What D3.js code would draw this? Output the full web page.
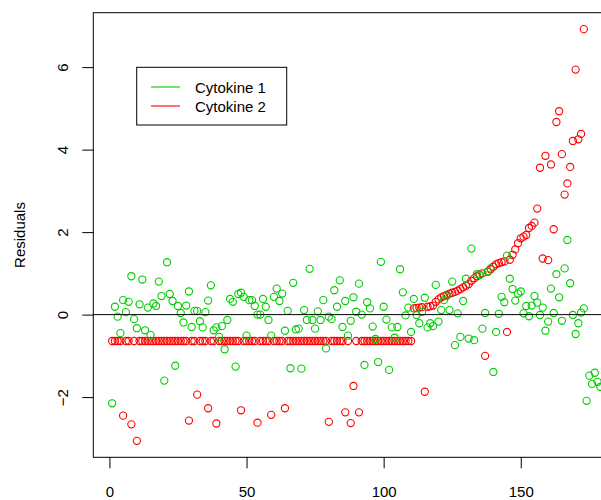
<!DOCTYPE html>
<html>
<head>
<meta charset="utf-8">
<script src="https://cdn.jsdelivr.net/npm/d3@7"></script>
<style>
  body { margin: 0; background: #fff; }
  svg { font-family: "Liberation Sans", Arial, Helvetica, sans-serif; }
</style>
</head>
<body>
<svg id="svg" width="601" height="500"></svg>
<script>
// residuals, one value per observation index (1..n)
const cytokine1 = [
  -2.15, 0.19, -0.05, -0.45, 0.35, 0.06, 0.31, 0.93, -0.11, -0.33,
  0.25, 0.85, -0.38, 0.17, -0.49, 0.27, 0.21, 0.80, 0.45, -1.60,
  1.27, 0.50, 0.33, -1.24, 0.21, 0.04, -0.19, 0.22, 0.56, -0.30,
  0.09, 0.09, -0.16, -0.31, 0.06, 0.34, 0.71, -0.38, -0.31, -0.54,
  -0.28, -0.84, -0.13, 0.38, 0.31, -1.26, 0.50, 0.53, 0.43, -0.51,
  0.35, 0.35, 0.21, 0.00, 0.00, 0.38, 0.19, -0.13, -0.51, 0.43,
  0.63, 0.33, 0.51, -0.39, 0.09, -1.30, 0.77, -0.36, -0.34, -1.31,
  0.11, -0.13, 1.11, -0.13, -0.34, 0.08, -0.13, 0.35, -0.82, -0.05,
  -0.11, 0.59, 0.19, 0.83, -0.30, 0.33, -0.51, -0.15, 0.42, 0.07,
  0.75, 0.00, -1.22, 0.30, 0.15, -0.29, -0.59, -1.15, 1.28, 0.19,
  -0.12, -1.34, -0.31, -0.56, -0.30, 1.10, 0.54, -0.02, 0.17, -0.42,
  0.38, -0.01, -0.21, 0.07, 0.41, -0.31, -0.21, -0.28, 0.72, -0.17,
  0.11, 0.35, 0.45, 0.11, 0.80, -0.74, 0.03, -0.54, 0.33, 0.87,
  -0.58, 1.60, -0.62, 0.98, 0.96, -0.34, 0.04, 1.05, 1.12, -1.39,
  -0.42, 0.02, 0.43, 0.30, 1.43, 0.87, 0.62, 0.34, 0.51, 0.56,
  0.03, 0.21, -0.04, 0.22, 0.45, 0.29, -0.01, 0.17, -0.39, -0.17,
  0.63, 0.04, 0.98, 0.42, -0.15, 1.12, 1.81, 0.76, -0.01, -0.47,
  -0.21, 0.05, 0.15, -2.09, -1.48, -1.68, -1.41, -1.63, -1.75
];

const cytokine2 = [
  -0.64, -0.64, -0.64, -0.64, -2.45, -0.64, -0.64, -2.66, -0.64, -3.06,
  -0.64, -0.64, -0.64, -0.64, -0.64, -0.64, -0.64, -0.64, -0.64, -0.64,
  -0.64, -0.64, -0.64, -0.64, -0.64, -0.64, -0.64, -0.64, -2.57, -0.64,
  -0.64, -1.94, -0.64, -0.64, -0.64, -2.27, -0.64, -0.64, -2.64, -0.64,
  -0.64, -0.64, -0.64, -0.64, -0.64, -0.64, -0.64, -2.32, -0.64, -0.64,
  -0.64, -0.64, -0.64, -2.62, -0.64, -0.64, -0.64, -0.64, -2.43, -0.64,
  -0.64, -0.64, -0.64, -2.27, -0.64, -0.64, -0.64, -0.64, -0.64, -0.64,
  -0.64, -0.64, -0.64, -0.64, -0.64, -0.64, -0.64, -0.64, -0.64, -2.60,
  -0.64, -0.64, -0.64, -0.64, -0.64, -2.37, -0.64, -2.63, -1.73, -0.64,
  -2.37, -0.64, -0.64, -0.64, -0.64, -0.64, -0.64, -0.64, -0.64, -0.64,
  -0.64, -0.64, -0.64, -0.64, -0.64, -0.64, -0.64, -0.64, -0.64, -0.64,
  0.15, 0.16, 0.17, 0.18, -1.87, 0.19, 0.20, 0.22, 0.31, 0.37,
  0.42, 0.45, 0.48, 0.51, 0.53, 0.55, 0.58, 0.62, 0.66, 0.70,
  0.74, 0.82, 0.88, 0.93, 0.97, 1.00, -1.00, 1.04, 1.10, 1.16,
  1.22, 1.25, 1.27, 1.29, -0.42, 1.33, 1.45, 1.58, 1.73, 1.85,
  1.89, 1.93, 2.10, 2.15, 2.23, 2.57, 3.56, 1.36, 3.85, 1.32,
  3.64, 2.07, 4.67, 4.93, 3.89, 2.91, 3.18, 3.58, 4.21, 5.94,
  4.25, 4.38, 6.92
];

const seriesNames = ["Cytokine 1", "Cytokine 2"];
const seriesColors = ["#00CD00", "#FF0000"];
const xTicks = [0, 50, 100, 150];
const yTicks = [-2, 0, 2, 4, 6];

const box = { left: 93.3, right: 602.7, top: 12.7, bottom: 457.3 };
const fontSize = 15;

const svg = d3.select("#svg");

// R style limits: data range padded by 4% on each side
const n = cytokine2.length;
const xPad = 0.04 * (n - 1);
const x = d3.scaleLinear().domain([1 - xPad, n + xPad]).range([box.left, box.right]);

const allY = cytokine1.concat(cytokine2);
const yMin = d3.min(allY), yMax = d3.max(allY);
const yPad = 0.04 * (yMax - yMin);
const y = d3.scaleLinear().domain([yMin - yPad, yMax + yPad]).range([box.bottom, box.top]);

svg.append("defs").append("clipPath").attr("id", "plotclip")
    .append("rect")
    .attr("x", box.left).attr("y", box.top)
    .attr("width", box.right - box.left).attr("height", box.bottom - box.top);

const plot = svg.append("g").attr("clip-path", "url(#plotclip)");

function drawPoints(values, color) {
    plot.append("g").selectAll("circle")
        .data(values)
        .join("circle")
        .attr("cx", (d, i) => x(i + 1))
        .attr("cy", d => y(d))
        .attr("r", 3.6)
        .style("fill", "none")
        .style("stroke", color)
        .style("stroke-width", 1.1);
}

drawPoints(cytokine2, seriesColors[1]);
drawPoints(cytokine1, seriesColors[0]);

// abline(h = 0)
plot.append("line")
    .attr("x1", box.left).attr("x2", box.right)
    .attr("y1", y(0)).attr("y2", y(0))
    .style("stroke", "black")
    .style("stroke-width", 1);

// box
svg.append("rect")
    .attr("x", box.left).attr("y", box.top)
    .attr("width", box.right - box.left).attr("height", box.bottom - box.top)
    .style("fill", "none")
    .style("stroke", "black")
    .style("stroke-width", 1);

// axes
const xAxis = svg.append("g")
    .attr("transform", "translate(0," + box.bottom + ")")
    .call(d3.axisBottom(x).tickValues(xTicks).tickSize(11).tickPadding(18).tickFormat(d3.format("d")));
xAxis.select(".domain").remove();
xAxis.selectAll("line").style("stroke", "black");
xAxis.selectAll("text").style("font-size", fontSize + "px").style("fill", "black")
    .style("font-family", "inherit");

const yAxis = svg.append("g")
    .attr("transform", "translate(" + box.left + ",0)")
    .call(d3.axisLeft(y).tickValues(yTicks).tickSize(11));
yAxis.select(".domain").remove();
yAxis.selectAll("line").style("stroke", "black");
yAxis.selectAll("text")
    .attr("x", null).attr("dy", null)
    .attr("transform", "translate(-25.5,0)rotate(-90)")
    .attr("text-anchor", "middle")
    .style("font-size", fontSize + "px").style("fill", "black")
    .style("font-family", "inherit");

svg.append("text")
    .attr("transform", "translate(25," + ((box.top + box.bottom) / 2) + ")rotate(-90)")
    .attr("text-anchor", "middle")
    .style("font-size", fontSize + "px")
    .text("Residuals");

// legend
const legend = svg.append("g");
legend.append("rect")
    .attr("x", 136.7).attr("y", 67.3)
    .attr("width", 150).attr("height", 57.7)
    .style("fill", "white")
    .style("stroke", "black")
    .style("stroke-width", 1);

const rows = legend.selectAll("g.row")
    .data(seriesNames)
    .join("g")
    .attr("class", "row")
    .attr("transform", (d, i) => "translate(0," + (87 + i * 19) + ")");

rows.append("line")
    .attr("x1", 151).attr("x2", 180)
    .attr("y1", 0).attr("y2", 0)
    .style("stroke", (d, i) => seriesColors[i])
    .style("stroke-width", 1.1);

rows.append("text")
    .attr("x", 195).attr("y", 5.5)
    .style("font-size", fontSize + "px")
    .text(d => d);
</script>
</body>
</html>
